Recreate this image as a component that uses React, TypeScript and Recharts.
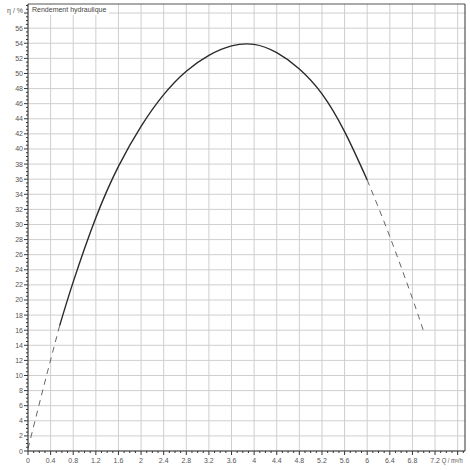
import React from 'react'
import { LineChart, Line, XAxis, YAxis, CartesianGrid, ReferenceLine } from 'recharts'

// Q / m³/h and η / %
const qLeft = [0, 0.28, 0.56]
const etaLeft = [0.3, 8.6, 16.6]

const qMain = [0.56, 0.8, 1.2, 1.6, 2.0, 2.4, 2.8, 3.2, 3.6, 4.0, 4.4, 4.8, 5.2, 5.6, 6.0]
const etaMain = [16.6, 22.4, 30.9, 37.7, 43.0, 47.2, 50.3, 52.4, 53.65, 53.85, 52.75, 50.6, 47.3, 42.3, 35.9]

const qRight = [6.0, 6.4, 6.8, 7.0]
const etaRight = [35.9, 28.4, 20.2, 15.8]

const xMajor = [0, 0.4, 0.8, 1.2, 1.6, 2, 2.4, 2.8, 3.2, 3.6, 4, 4.4, 4.8, 5.2, 5.6, 6, 6.4, 6.8, 7.2, 7.6]
const yMajor = [0, 2, 4, 6, 8, 10, 12, 14, 16, 18, 20, 22, 24, 26, 28, 30, 32, 34, 36, 38, 40, 42, 44, 46, 48, 50, 52, 54, 56, 58]
const xAxisName = 'Q / m³/h'
const yAxisName = 'η / %'
const title = 'Rendement hydraulique'

const X_MAX = 7.73
const Y_MAX = 59.2

const toRows = (q: number[], eta: number[]) => q.map((v, i) => ({ q: v, eta: eta[i] }))

const xMinor = Array.from({ length: 78 }, (_, i) => i / 10)
const yMinor = Array.from({ length: 119 }, (_, i) => i / 2)

const FONT = '"Liberation Sans", Arial, sans-serif'

const XTick = (props: any) => {
  const { x, y, payload } = props
  const v = payload.value as number
  const major = Math.round(v * 10) % 4 === 0
  const isName = Math.abs(v - 7.6) < 0.01
  return (
    <g>
      <line x1={x} x2={x} y1={y} y2={y + (major ? 4 : 2)} stroke="#333" strokeWidth={1} />
      {major && !isName && (
        <text x={x} y={y + 12} textAnchor="middle" fontSize={7} fill="#555" fontFamily={FONT}>
          {String(v)}
        </text>
      )}
      {isName && (
        <text
          x={x - 16}
          y={y + 12}
          textAnchor="start"
          fontSize={7}
          fill="#555"
          fontFamily={FONT}
          textLength={21}
          lengthAdjust="spacingAndGlyphs"
        >
          {xAxisName}
        </text>
      )}
    </g>
  )
}

const YTick = (props: any) => {
  const { x, y, payload } = props
  const v = payload.value as number
  const major = Math.round(v * 2) % 4 === 0
  const isName = Math.abs(v - 58) < 0.01
  return (
    <g>
      <line x1={x - (major ? 4 : 2)} x2={x} y1={y} y2={y} stroke="#333" strokeWidth={1} />
      {major && (
        <text
          x={x - 5}
          y={isName ? y : y + 2.5}
          textAnchor="end"
          fontSize={7}
          fill="#555"
          fontFamily={FONT}
        >
          {isName ? yAxisName : String(v)}
        </text>
      )}
    </g>
  )
}

export default function App() {
  return (
    <div style={{ position: 'absolute', left: 0, top: 0, width: 470, height: 470, background: '#fff' }}>
      <LineChart width={470} height={470} margin={{ top: 4, right: 5, bottom: 0, left: 0 }}>
        <CartesianGrid stroke="#cfcfcf" verticalValues={xMajor} horizontalValues={yMajor} />
        <XAxis
          dataKey="q"
          type="number"
          domain={[0, X_MAX]}
          ticks={xMinor}
          interval={0}
          allowDataOverflow
          tickSize={0}
          tickMargin={0}
          tick={<XTick />}
          height={19}
          stroke="#333"
        />
        <YAxis
          dataKey="eta"
          type="number"
          domain={[0, Y_MAX]}
          ticks={yMinor}
          interval={0}
          allowDataOverflow
          tickSize={0}
          tickMargin={0}
          tick={<YTick />}
          width={28}
          stroke="#333"
        />
        <ReferenceLine x={X_MAX} stroke="#333" />
        <ReferenceLine y={Y_MAX} stroke="#555" />
        <Line
          data={toRows(qLeft, etaLeft)}
          dataKey="eta"
          type="natural"
          stroke="#666"
          strokeWidth={1}
          strokeDasharray="6 5"
          dot={false}
          isAnimationActive={false}
        />
        <Line
          data={toRows(qMain, etaMain)}
          dataKey="eta"
          type="natural"
          stroke="#2a2a2a"
          strokeWidth={1.4}
          dot={false}
          isAnimationActive={false}
        />
        <Line
          data={toRows(qRight, etaRight)}
          dataKey="eta"
          type="natural"
          stroke="#666"
          strokeWidth={1}
          strokeDasharray="6 5"
          dot={false}
          isAnimationActive={false}
        />
      </LineChart>
      <div
        style={{
          position: 'absolute',
          left: 29,
          top: 5,
          padding: '1px 3px',
          background: '#fff',
          fontFamily: FONT,
          fontSize: 7,
          color: '#444',
          lineHeight: '8px',
        }}
      >
        {title}
      </div>
    </div>
  )
}
